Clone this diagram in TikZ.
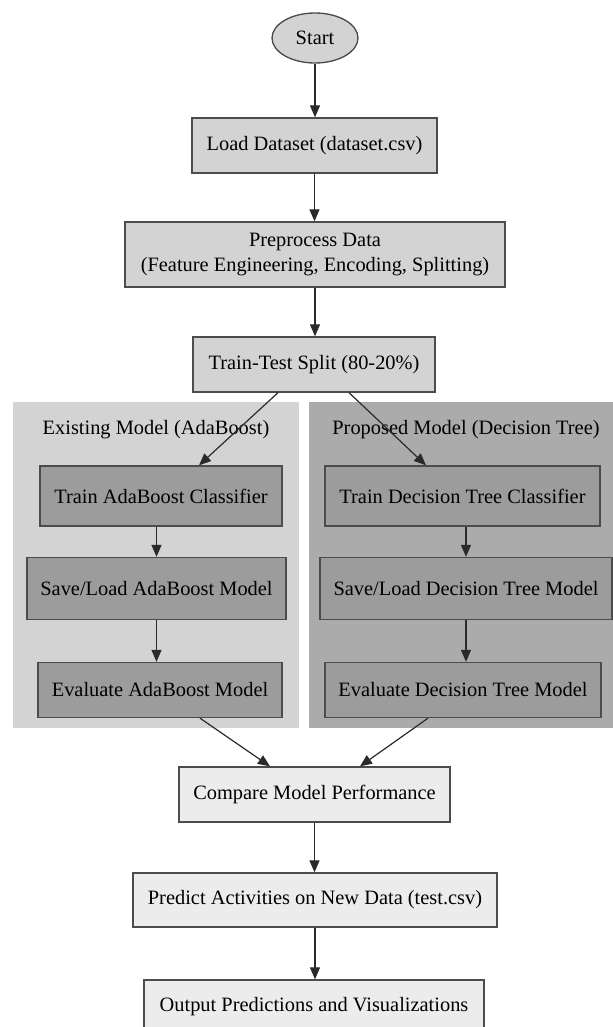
\documentclass[tikz,border=0pt]{standalone}
\usepackage{fontspec}
\setmainfont{Liberation Serif}
\usetikzlibrary{arrows.meta,shapes.geometric,calc}
\definecolor{topfill}{HTML}{D3D3D3}
\definecolor{lowfill}{HTML}{ECECEC}
\definecolor{innerfill}{HTML}{9C9C9C}
\definecolor{clusterA}{HTML}{D3D3D3}
\definecolor{clusterB}{HTML}{ABABAB}
\definecolor{edgecol}{HTML}{2A2A2A}
\tikzset{
  base/.style={draw=black!70, line width=1pt, inner sep=0pt, align=center,
    font=\fontsize{15.3}{18.5}\selectfont},
  topbox/.style={base, rectangle, fill=topfill},
  innerbox/.style={base, rectangle, fill=innerfill},
  lowbox/.style={base, rectangle, fill=lowfill},
  startnode/.style={base, ellipse, fill=topfill},
  clusterlabel/.style={font=\fontsize{15.3}{18.5}\selectfont, inner sep=0pt},
  conn/.style={draw=edgecol, line width=0.9pt, -{Triangle[length=9pt,width=7.5pt]}},
}
\begin{document}
\begin{tikzpicture}[x=0.75pt,y=-0.75pt]
\clip (0,0) rectangle (613,1027);
\fill[white] (0,0) rectangle (613,1027);
% clusters
\fill[clusterA] (13,402) rectangle (299,728);
\fill[clusterB] (309,402) rectangle (614,728);
\node[clusterlabel] (labA) at (156,430) {Existing Model (AdaBoost)};
\node[clusterlabel] (labB) at (466,430) {Proposed Model (Decision Tree)};
% main nodes
\node[startnode, minimum width=64.5pt, minimum height=37.5pt] (start) at (315,38) {Start};
\node[topbox, minimum width=183.75pt, minimum height=41.25pt] (load) at (314.5,145.5) {Load Dataset (dataset.csv)};
\node[topbox, minimum width=285pt, minimum height=48.75pt] (prep) at (315,254.5) {Preprocess Data\\(Feature Engineering, Encoding, Splitting)};
\node[topbox, minimum width=181.5pt, minimum height=41.25pt] (split) at (314,364.5) {Train-Test Split (80-20\%)};
% cluster A nodes
\node[innerbox, minimum width=181.5pt, minimum height=45pt] (trainA) at (161,496) {Train AdaBoost Classifier};
\node[innerbox, minimum width=194.25pt, minimum height=46.5pt] (saveA) at (156.5,588.5) {Save/Load AdaBoost Model};
\node[innerbox, minimum width=183pt, minimum height=41.25pt] (evalA) at (160,690) {Evaluate AdaBoost Model};
% cluster B nodes
\node[innerbox, minimum width=206.25pt, minimum height=45pt] (trainD) at (462.5,496) {Train Decision Tree Classifier};
\node[innerbox, minimum width=219pt, minimum height=46.5pt] (saveD) at (466,588.5) {Save/Load Decision Tree Model};
\node[innerbox, minimum width=207pt, minimum height=41.25pt] (evalD) at (463,690) {Evaluate Decision Tree Model};
% lower nodes
\node[lowbox, minimum width=203.25pt, minimum height=41.25pt] (compare) at (314.5,794.5) {Compare Model Performance};
\node[lowbox, minimum width=273pt, minimum height=40.5pt] (predict) at (315,900) {Predict Activities on New Data (test.csv)};
\node[lowbox, minimum width=255pt, minimum height=40.5pt] (output) at (314,1007) {Output Predictions and Visualizations};
% connectors
\draw[conn] (start.south) -- (start.south |- load.north);
\draw[conn] (load.south) -- (load.south |- prep.north);
\draw[conn] (prep.south) -- (prep.south |- split.north);
\draw[conn] ([xshift=-27pt]split.south) -- ([xshift=28.5pt]trainA.north);
\draw[conn] ([xshift=26.25pt]split.south) -- ([xshift=-27.4pt]trainD.north);
\draw[conn] (trainA.south -| saveA.north) -- (saveA.north);
\draw[conn] (saveA.south) -- (saveA.south |- evalA.north);
\draw[conn] (trainD.south -| saveD.north) -- (saveD.north);
\draw[conn] (saveD.south) -- (saveD.south |- evalD.north);
\draw[conn] ([xshift=30pt]evalA.south) -- ([xshift=-33.4pt]compare.north);
\draw[conn] ([xshift=-26.25pt]evalD.south) -- ([xshift=34.1pt]compare.north);
\draw[conn] (compare.south) -- (compare.south |- predict.north);
\draw[conn] (predict.south) -- (predict.south |- output.north);
\end{tikzpicture}
\end{document}
